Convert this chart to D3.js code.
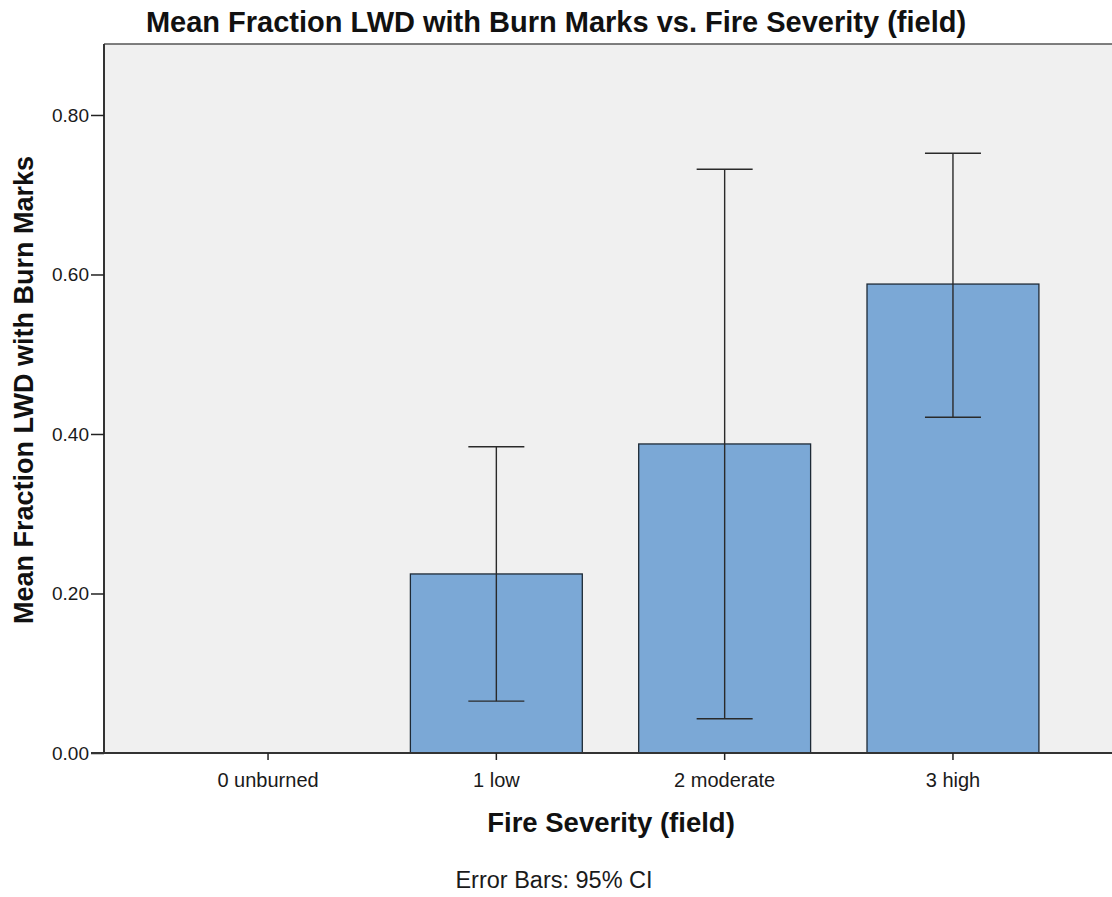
<!DOCTYPE html>
<html><head><meta charset="utf-8">
<script src="https://cdn.jsdelivr.net/npm/d3@7"></script>
<style>body{margin:0;background:#fff;} svg{display:block;}</style>
</head><body>
<svg id="c" width="1112" height="897"></svg>
<script>
const categories = ["0 unburned", "1 low", "2 moderate", "3 high"];
const means = [0.0, 0.2245, 0.3875, 0.588];
const ciLow = [0.0, 0.065, 0.043, 0.421];
const ciHigh = [0.0, 0.384, 0.732, 0.752];
const yTicks = [0, 0.2, 0.4, 0.6, 0.8];

const svg = d3.select("#c");
const pL = 104, pR = 1117, pT = 44, pB = 753;
const x = d3.scaleBand().domain(categories).range([pL, pR]).paddingInner(0.247).paddingOuter(0.342);
const y = d3.scaleLinear().domain([0, 0.889]).range([pB, pT]);
const font = "Arial, 'Liberation Sans', sans-serif";

svg.append("rect").attr("x", pL).attr("y", pT).attr("width", pR - pL).attr("height", pB - pT).attr("fill", "#f0f0f0");

const idx = d3.range(categories.length);
svg.append("g").selectAll("rect").data(idx).join("rect")
  .attr("x", i => x(categories[i]))
  .attr("width", x.bandwidth())
  .attr("y", i => y(means[i]))
  .attr("height", i => y(0) - y(means[i]))
  .attr("fill", "#7ba8d6").attr("stroke", "#1e2a36").attr("stroke-width", 1.3);

const cap = 56;
const eb = svg.append("g").attr("stroke", "#2a2a2a").attr("stroke-width", 1.4);
idx.filter(i => ciHigh[i] > ciLow[i]).forEach(i => {
  const cx = x(categories[i]) + x.bandwidth() / 2;
  eb.append("line").attr("x1", cx).attr("x2", cx).attr("y1", y(ciLow[i])).attr("y2", y(ciHigh[i]));
  eb.append("line").attr("x1", cx - cap/2).attr("x2", cx + cap/2).attr("y1", y(ciLow[i])).attr("y2", y(ciLow[i]));
  eb.append("line").attr("x1", cx - cap/2).attr("x2", cx + cap/2).attr("y1", y(ciHigh[i])).attr("y2", y(ciHigh[i]));
});

svg.append("line").attr("x1", pL).attr("x2", pR).attr("y1", pT).attr("y2", pT).attr("stroke", "#555").attr("stroke-width", 1.5);

const yAxis = svg.append("g").attr("transform", `translate(${pL},0)`)
  .call(d3.axisLeft(y).tickValues(yTicks).tickFormat(d3.format(".2f")).tickSize(13).tickSizeOuter(0).tickPadding(2));
yAxis.select(".domain").attr("stroke", "#333").attr("stroke-width", 2).attr("d", `M0,${pT}V${pB}`);
yAxis.selectAll(".tick line").attr("stroke", "#222").attr("stroke-width", 1.5);
yAxis.selectAll("text").attr("font-family", font).attr("font-size", 19).attr("fill", "#1a1a1a");

const xAxis = svg.append("g").attr("transform", `translate(0,${pB})`)
  .call(d3.axisBottom(x).tickSize(7).tickSizeOuter(0).tickPadding(4));
xAxis.select(".domain").attr("stroke", "#333").attr("stroke-width", 2).attr("d", `M${pL - 13},0H${pR}`);
xAxis.selectAll(".tick line").attr("stroke", "#222").attr("stroke-width", 1.5);
xAxis.selectAll("text").attr("font-family", font).attr("font-size", 20).attr("fill", "#1a1a1a")
  .attr("dy", null).attr("y", 34);

svg.append("text").attr("x", 556).attr("y", 32).attr("text-anchor", "middle")
  .attr("font-family", font).attr("font-weight", "bold").attr("font-size", 29).attr("fill", "#111")
  .text("Mean Fraction LWD with Burn Marks vs. Fire Severity (field)");

svg.append("text").attr("transform", `translate(33,390) rotate(-90)`).attr("text-anchor", "middle")
  .attr("font-family", font).attr("font-weight", "bold").attr("font-size", 27).attr("fill", "#111")
  .text("Mean Fraction LWD with Burn Marks");

svg.append("text").attr("x", 611).attr("y", 832).attr("text-anchor", "middle")
  .attr("font-family", font).attr("font-weight", "bold").attr("font-size", 27.5).attr("fill", "#111")
  .text("Fire Severity (field)");

svg.append("text").attr("x", 554).attr("y", 888).attr("text-anchor", "middle")
  .attr("font-family", font).attr("font-size", 23.5).attr("fill", "#1a1a1a")
  .text("Error Bars: 95% CI");
</script>
</body></html>
